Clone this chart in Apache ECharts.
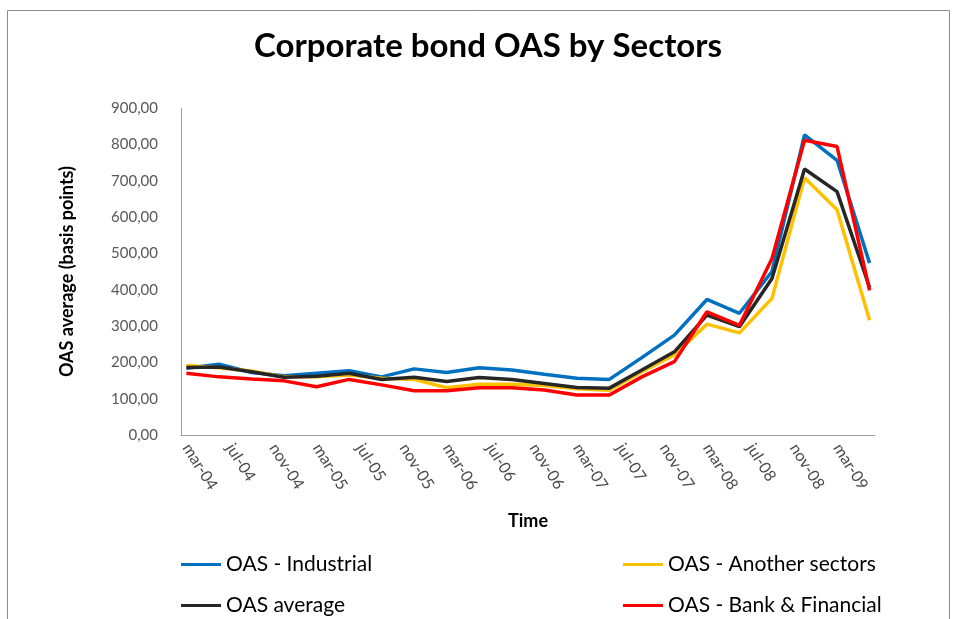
<!DOCTYPE html>
<html>
<head>
<meta charset="utf-8">
<script src="https://cdn.jsdelivr.net/npm/echarts@6/dist/echarts.min.js"></script>
<style>
  html, body { margin: 0; padding: 0; background: #ffffff; }
  #chart { width: 958px; height: 619px; }
</style>
</head>
<body>
<div id="chart"></div>
<script>
// Quarterly observation dates (OAS, basis points)
const quarters = ['mar-04','jun-04','sep-04','dec-04','mar-05','jun-05','sep-05','dec-05',
  'mar-06','jun-06','sep-06','dec-06','mar-07','jun-07','sep-07','dec-07',
  'mar-08','jun-08','sep-08','dec-08','mar-09','jun-09'];

const industrial = [184, 195, 172, 163, 170, 177, 160, 182, 172, 185, 179, 167,
  156, 153, 213, 275, 373, 335, 450, 826, 756, 473];
const anotherSectors = [191, 185, 176, 160, 160, 165, 156, 153, 130, 140, 140, 136,
  127, 123, 174, 220, 305, 281, 376, 708, 620, 316];
const oasAverage = [186, 187, 174, 159, 162, 170, 153, 159, 147, 158, 153, 142,
  131, 129, 179, 229, 330, 298, 431, 732, 670, 406];
const bankFinancial = [170, 160, 154, 149, 133, 153, 138, 122, 122, 130, 130, 124,
  110, 110, 160, 202, 339, 302, 486, 811, 794, 398];

// Labels shown along the time axis (every fourth month)
const tickLabels = ['mar-04','jul-04','nov-04','mar-05','jul-05','nov-05','mar-06','jul-06',
  'nov-06','mar-07','jul-07','nov-07','mar-08','jul-08','nov-08','mar-09'];

const seriesNames = ['OAS - Industrial', 'OAS - Another sectors', 'OAS average', 'OAS - Bank & Financial'];
const seriesColors = ['#0070C0', '#FFC000', '#262626', '#FF0000'];

// Monthly slots from mar-04 to jun-09 so the axis is spaced by calendar month
const monthNames = ['jan','feb','mar','apr','may','jun','jul','aug','sep','oct','nov','dec'];
const months = [];
for (let y = 2004; y <= 2009; y++) {
  for (let m = 0; m < 12; m++) {
    if (y === 2004 && m < 2) continue;
    if (y === 2009 && m > 5) continue;
    months.push(monthNames[m] + '-' + String(y).slice(2));
  }
}

const FONT = 'Lato, "Open Sans", sans-serif';

function pairs(values) {
  return quarters.map((q, i) => [q, values[i]]);
}

const seriesData = [industrial, anotherSectors, oasAverage, bankFinancial];

// Two-column legend: each entry placed in its own cell
const legendPos = [
  { left: 181, top: 554 },
  { left: 623, top: 554 },
  { left: 181, top: 595 },
  { left: 623, top: 595 }
];

const chart = echarts.init(document.getElementById('chart'));
chart.setOption({
  animation: false,
  backgroundColor: '#ffffff',
  title: {
    text: 'Corporate bond OAS by Sectors',
    left: 488,
    top: 30,
    padding: 0,
    textAlign: 'center',
    textStyle: { fontFamily: FONT, fontSize: 33, fontWeight: 'bold', color: '#000000' }
  },
  graphic: [{
    type: 'rect',
    shape: { x: 7.5, y: 10.5, width: 942, height: 640 },
    style: { fill: 'none', stroke: '#8c8c8c', lineWidth: 1 },
    silent: true
  }],
  legend: seriesNames.map((name, i) => ({
    data: [name],
    left: legendPos[i].left,
    top: legendPos[i].top,
    padding: 0,
    icon: 'rect',
    itemWidth: 40,
    itemHeight: 3,
    textStyle: { fontFamily: FONT, fontSize: 21, color: '#000000' }
  })),
  grid: { left: 181, right: 83, top: 108, bottom: 184, containLabel: false },
  xAxis: {
    type: 'category',
    data: months,
    boundaryGap: true,
    name: 'Time',
    nameLocation: 'middle',
    nameGap: 77,
    nameTextStyle: { fontFamily: FONT, fontSize: 18, fontWeight: 'bold', color: '#000000' },
    axisLine: { lineStyle: { color: '#a0a0a0', width: 1 } },
    axisTick: { show: false },
    axisLabel: {
      interval: 3,
      rotate: -58,
      margin: 10,
      fontFamily: FONT,
      fontSize: 16,
      color: '#4a4a4a',
      formatter: (v) => (tickLabels.indexOf(v) >= 0 ? v : '')
    },
    splitLine: { show: false }
  },
  yAxis: {
    type: 'value',
    min: 0,
    max: 900,
    interval: 100,
    name: 'OAS average (basis points)',
    nameLocation: 'middle',
    nameGap: 105,
    nameTextStyle: { fontFamily: FONT, fontSize: 18, fontWeight: 'bold', color: '#000000' },
    axisLine: { show: true, lineStyle: { color: '#a0a0a0', width: 1 } },
    axisTick: { show: false },
    splitLine: { show: false },
    axisLabel: {
      margin: 23,
      fontFamily: FONT,
      fontSize: 15,
      color: '#595959',
      formatter: (v) => v.toFixed(2).replace('.', ',')
    }
  },
  series: seriesNames.map((name, i) => ({
    name: name,
    type: 'line',
    data: pairs(seriesData[i]),
    symbol: 'none',
    lineStyle: { color: seriesColors[i], width: 3.5 },
    itemStyle: { color: seriesColors[i] },
    z: 2 + i
  }))
});
</script>
</body>
</html>
